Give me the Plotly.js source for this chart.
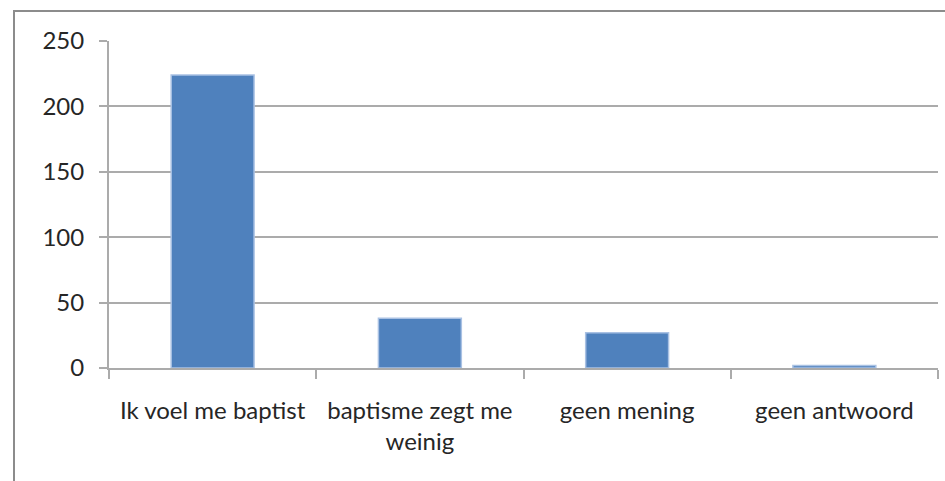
<!DOCTYPE html>
<html>
<head>
<meta charset="utf-8">
<script src="https://cdn.plot.ly/plotly-3.0.1.min.js"></script>
<style>
html,body{margin:0;padding:0;background:#fff;}
#chart{width:945px;height:481px;}
</style>
</head>
<body>
<div id="chart"></div>
<script>
const categories = ["Ik voel me baptist", "baptisme zegt me<br>weinig", "geen mening", "geen antwoord"];
const values = [224, 38, 27, 2];
const yTicks = [0, 50, 100, 150, 200, 250];

const gridColor = "#ababab";
const textColor = "#262626";

const data = [{
  type: "bar",
  x: categories,
  y: values,
  marker: {color: "#4f81bd", line: {color: "#a9c1e3", width: 1.5}},
  hoverinfo: "none"
}];

const layout = {
  width: 945,
  height: 481,
  margin: {l: 109, r: 7, t: 41, b: 113},
  paper_bgcolor: "#ffffff",
  plot_bgcolor: "#ffffff",
  showlegend: false,
  bargap: 0.6,
  font: {family: "Lato, 'Open Sans', sans-serif", size: 24, color: textColor},
  xaxis: {
    type: "category",
    showgrid: false,
    showline: true,
    linecolor: gridColor,
    linewidth: 2,
    ticks: "outside",
    tickson: "boundaries",
    ticklen: 9,
    tickwidth: 2,
    tickcolor: gridColor,
    ticklabelstandoff: 20,
    tickfont: {size: 24, color: textColor},
    zeroline: false,
    fixedrange: true
  },
  yaxis: {
    range: [0, 250],
    tickvals: yTicks,
    ticktext: yTicks.map(String),
    showgrid: true,
    gridcolor: gridColor,
    gridwidth: 2,
    showline: true,
    linecolor: gridColor,
    linewidth: 2,
    ticks: "outside",
    ticklen: 8,
    tickwidth: 2,
    tickcolor: gridColor,
    ticklabelstandoff: 10,
    zeroline: false,
    tickfont: {size: 24, color: textColor},
    fixedrange: true
  },
  shapes: [{
    type: "rect",
    xref: "paper", yref: "paper",
    x0: -95 / 829, x1: 1.2,
    y0: -1, y1: 1 + 30 / 327,
    line: {color: "#8c8c8c", width: 2},
    fillcolor: "rgba(0,0,0,0)",
    layer: "below"
  }]
};

Plotly.newPlot("chart", data, layout, {displayModeBar: false, staticPlot: true});
</script>
</body>
</html>
